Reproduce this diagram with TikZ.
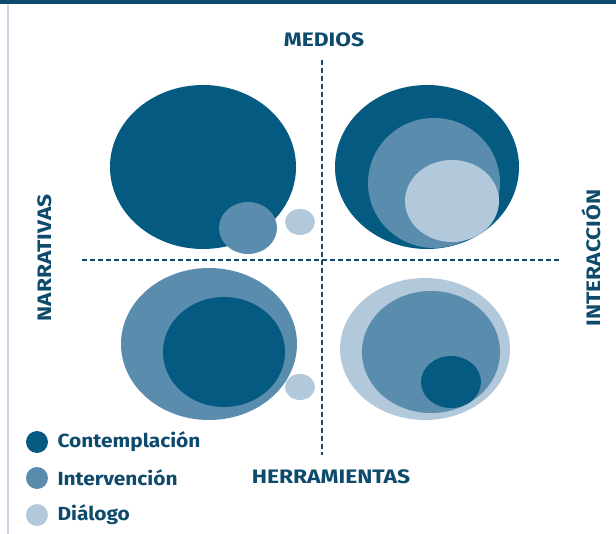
\documentclass[tikz,border=0pt]{standalone}
\usepackage{fontspec}
\setmainfont{Fira Sans}
\newfontfamily\axisfont[FakeStretch=1.17]{Fira Sans}
\newfontfamily\legendfont[FakeStretch=1.1]{Fira Sans}
\definecolor{darkblue}{HTML}{045A80}
\definecolor{midblue}{HTML}{5A8CAE}
\definecolor{lightblue}{HTML}{B2C8DB}
\definecolor{inkblue}{HTML}{0D4A6C}
\tikzset{
  axislabel/.style={text=inkblue, font=\axisfont\fontsize{19.5}{19.5}\selectfont\bfseries},
  legendtext/.style={text=inkblue, font=\legendfont\fontsize{19}{19}\selectfont\bfseries, anchor=west},
  axis/.style={inkblue, line width=1.3pt, dash pattern=on 5pt off 3pt}
}
\begin{document}
\begin{tikzpicture}[x=1pt, y=-1pt]
            \useasboundingbox (0,0) rectangle (616,534);
            % Top bar and left rule
            \fill[inkblue] (0,0) rectangle (616,4.5);
            \draw[lightblue!70, line width=1.2pt] (8,4.5) -- (8,534);

            % Top left
            \fill[darkblue] (203,167) ellipse (93 and 82);
            \fill[midblue] (248,228) ellipse (29 and 26);
            \fill[lightblue] (300,222) ellipse (15 and 13);

            % Top right
            \fill[darkblue] (427,167) ellipse (92 and 82);
            \fill[midblue] (434,183) ellipse (66 and 65);
            \fill[lightblue] (452,201) ellipse (47 and 41);

            % Bottom left
            \fill[midblue] (209,344) ellipse (88 and 76);
            \fill[darkblue] (224,352) ellipse (61 and 55);
            \fill[lightblue] (300,387) ellipse (15 and 13);

            % Bottom right
            \fill[lightblue] (425,349) ellipse (85 and 71);
            \fill[midblue] (431,352) ellipse (69 and 61);
            \fill[darkblue] (451,382) ellipse (30 and 26);

            % Axes
            \coordinate (top) at (322,60);
            \coordinate (bottom) at (322,455);
            \coordinate (left) at (82,260);
            \coordinate (right) at (560,260);
            \draw[axis] (top) -- (bottom);
            \draw[axis] (left) -- (right);

            \node[axislabel] (medios) at (324,40) {MEDIOS};
            \node[axislabel] (herramientas) at (331,477) {HERRAMIENTAS};
            \node[axislabel, rotate=90] (narrativas) at (45,258) {NARRATIVAS};
            \node[axislabel, rotate=90] (interaccion) at (591,258) {INTERACCIÓN};

            % Legend
            \fill[darkblue] (37,442) circle (11);
            \fill[midblue] (37,478) circle (11);
            \fill[lightblue] (37,515) circle (11);
            \node[legendtext] (contemplacion) at (54,442) {Contemplación};
            \node[legendtext] (intervencion) at (54,478) {Intervención};
            \node[legendtext] (dialogo) at (54,515) {Diálogo};
          \end{tikzpicture}
\end{document}
